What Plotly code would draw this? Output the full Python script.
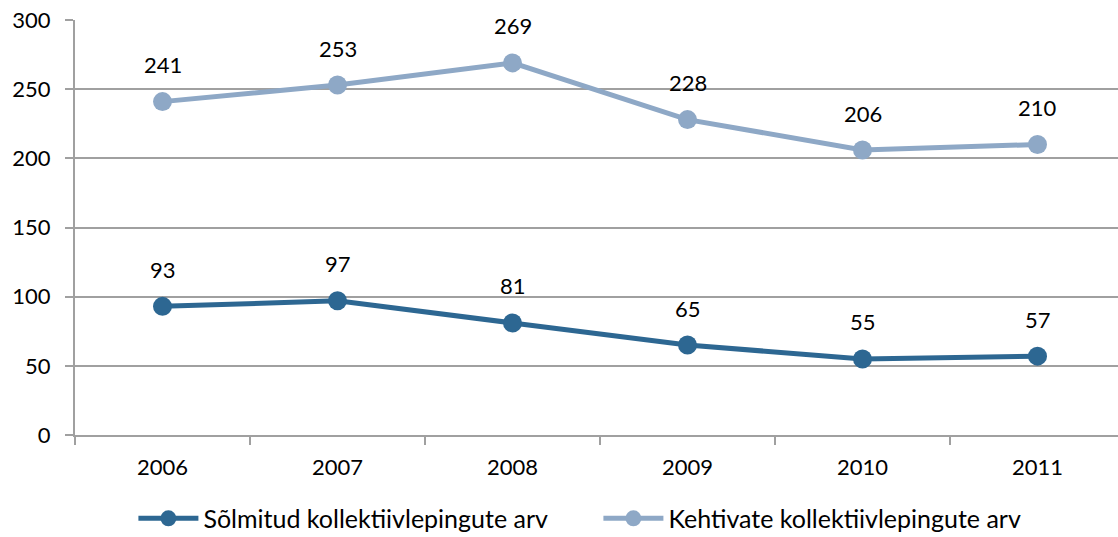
import plotly.graph_objects as go

years = ["2006", "2007", "2008", "2009", "2010", "2011"]
solmitud = [93, 97, 81, 65, 55, 57]
kehtivate = [241, 253, 269, 228, 206, 210]
y_ticks = [0, 50, 100, 150, 200, 250, 300]
name_solmitud = "Sõlmitud kollektiivlepingute arv"
name_kehtivate = "Kehtivate kollektiivlepingute arv"

c_dark = "#2D6792"
c_light = "#8EA8C6"
FONT = "Lato, Open Sans, sans-serif"

fig = go.Figure()
fig.add_trace(go.Scatter(x=years, y=solmitud, name=name_solmitud, mode="lines+markers",
                         line=dict(color=c_dark, width=5), marker=dict(size=19, color=c_dark)))
fig.add_trace(go.Scatter(x=years, y=kehtivate, name=name_kehtivate, mode="lines+markers",
                         line=dict(color=c_light, width=5), marker=dict(size=19, color=c_light)))

anns = []
for series in (solmitud, kehtivate):
    for i, y in enumerate(series):
        anns.append(dict(x=i, y=y, xref="x", yref="y", text=str(y), showarrow=False, yshift=37,
                         font=dict(size=22, color="#000000", family=FONT)))

fig.update_layout(
    width=1118, height=537,
    margin=dict(l=75, r=0, t=20, b=102, autoexpand=False),
    paper_bgcolor="white", plot_bgcolor="white",
    font=dict(family=FONT, size=22, color="#000000"),
    showlegend=True,
    legend=dict(orientation="h", x=0.056, xanchor="left", y=-0.146, yanchor="top",
                font=dict(size=25), itemwidth=60, tracegroupgap=0,
                entrywidth=390, entrywidthmode="pixels"),
    annotations=anns,
    xaxis=dict(type="category", range=[-0.5, 5.46], showgrid=False, automargin=False,
               showline=True, linecolor="#A0A0A0", linewidth=2,
               ticks="outside", tickson="boundaries", ticklen=8, tickcolor="#A0A0A0", tickwidth=2,
               tickfont=dict(size=22), ticklabelstandoff=12, zeroline=False),
    yaxis=dict(range=[0, 300], tickvals=y_ticks, automargin=False,
               showgrid=True, gridcolor="#A0A0A0", gridwidth=2,
               showline=True, linecolor="#A0A0A0", linewidth=2,
               ticks="outside", ticklen=8, tickcolor="#A0A0A0", tickwidth=2,
               tickfont=dict(size=22), ticklabelstandoff=10, zeroline=False),
)

fig.write_html("out.html", config={"displayModeBar": False},
               post_script="document.body.style.margin='0';")
